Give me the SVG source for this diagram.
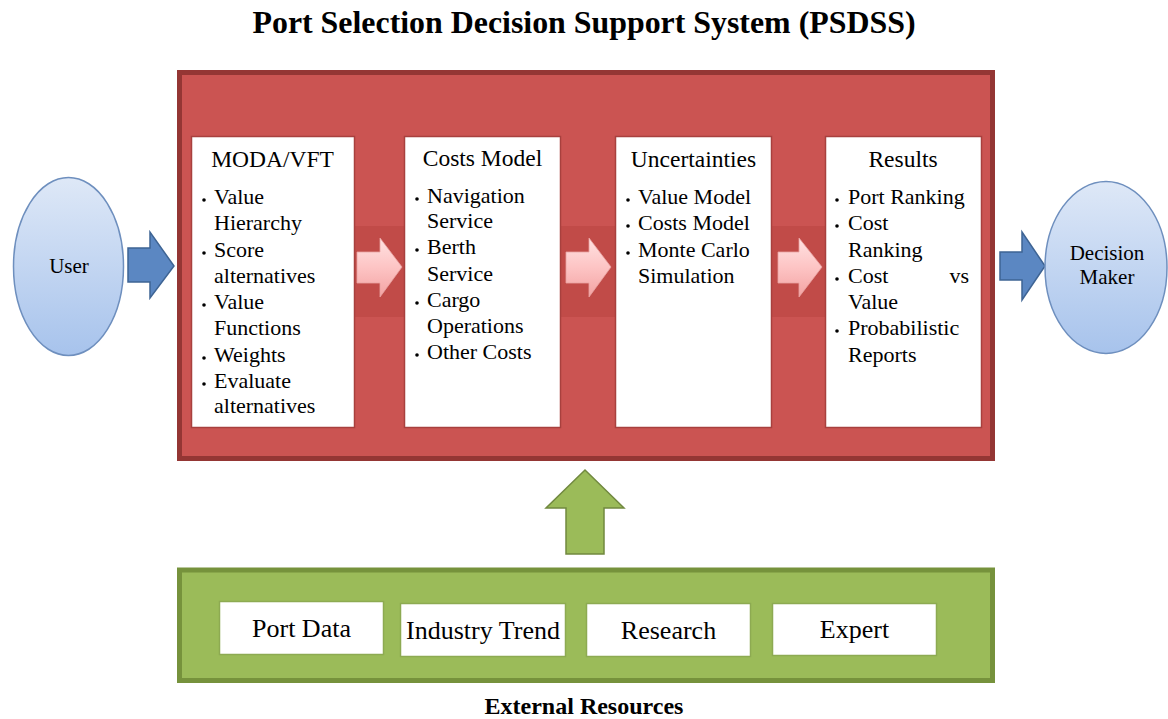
<svg xmlns="http://www.w3.org/2000/svg" width="1168" height="719" viewBox="0 0 1168 719">
<defs>
<style>
text{font-family:"Liberation Serif","Times New Roman",serif;fill:#000}
.title{font-size:32px;font-weight:bold}
.foot{font-size:24px;font-weight:bold}
.bt{font-size:22px}
.bh{font-size:23.5px}
.gl{font-size:26px}
.el{font-size:21px}
.wbox{fill:#fff;stroke:#A8403E;stroke-width:1.5}
.gbox{fill:#fff;stroke:#8DAA52;stroke-width:1.5}
.band{fill:#B9433F;opacity:0.55}
.pink{fill:url(#pg);stroke:#E9A3A2;stroke-width:0.8}
.blue{fill:#5B87C2;stroke:#3E6494;stroke-width:1.5}
.ell{fill:url(#bg);stroke:#6E8FBE;stroke-width:1.5}
.dot{fill:#000}
</style>
<linearGradient id="pg" x1="0" y1="0" x2="0" y2="1">
<stop offset="0" stop-color="#FFE2E2"/>
<stop offset="0.5" stop-color="#FDC4C4"/>
<stop offset="1" stop-color="#F3A2A2"/>
</linearGradient>
<linearGradient id="bg" x1="0" y1="0" x2="0" y2="1">
<stop offset="0" stop-color="#DEE8F7"/>
<stop offset="1" stop-color="#A7C3EC"/>
</linearGradient>
</defs>

<text class="title" x="584" y="33" text-anchor="middle" textLength="663" lengthAdjust="spacingAndGlyphs">Port Selection Decision Support System (PSDSS)</text>

<g id="psdss">
<rect x="179.5" y="72.5" width="813" height="386" fill="#CB5452" stroke="#943634" stroke-width="5"/>
</g>

<g id="connectors">
<rect class="band" x="352" y="226" width="54" height="91"/>
<rect class="band" x="558" y="226" width="60" height="91"/>
<rect class="band" x="769" y="226" width="59" height="91"/>
<polygon class="pink" points="357,252 380,252 380,238 402,267 380,297 380,283 357,283"/>
<polygon class="pink" points="566,252 589,252 589,238 611,267 589,297 589,283 566,283"/>
<polygon class="pink" points="778,252 799,252 799,238 822,267 799,297 799,283 778,283"/>
<polygon class="blue" points="128,248 150,248 150,232 174,266 150,298 150,282 128,282"/>
<polygon class="blue" points="1000,252 1022,252 1022,232 1045,266 1022,300 1022,280 1000,280"/>
<polygon points="585,470 624,508 604,508 604,554 566,554 566,508 546,508" fill="#9BBB59" stroke="#71893F" stroke-width="1.5"/>
</g>

<g id="moda">
<rect class="wbox" x="191.5" y="136.5" width="163" height="291"/>
<text class="bh" x="272.5" y="167" text-anchor="middle">MODA/VFT</text>
<circle class="dot" cx="204" cy="200" r="1.8"/>
<circle class="dot" cx="204" cy="253" r="1.8"/>
<circle class="dot" cx="204" cy="305" r="1.8"/>
<circle class="dot" cx="204" cy="358" r="1.8"/>
<circle class="dot" cx="204" cy="384" r="1.8"/>
<text class="bt" x="214" y="204">Value</text>
<text class="bt" x="214" y="230">Hierarchy</text>
<text class="bt" x="214" y="257">Score</text>
<text class="bt" x="214" y="283">alternatives</text>
<text class="bt" x="214" y="309">Value</text>
<text class="bt" x="214" y="335">Functions</text>
<text class="bt" x="214" y="362">Weights</text>
<text class="bt" x="214" y="388">Evaluate</text>
<text class="bt" x="214" y="413">alternatives</text>
</g>

<g id="costs">
<rect class="wbox" x="404.5" y="136.5" width="156" height="291"/>
<text class="bh" x="482.5" y="166" text-anchor="middle">Costs Model</text>
<circle class="dot" cx="417" cy="199" r="1.8"/>
<circle class="dot" cx="417" cy="250" r="1.8"/>
<circle class="dot" cx="417" cy="303" r="1.8"/>
<circle class="dot" cx="417" cy="355" r="1.8"/>
<text class="bt" x="427" y="203">Navigation</text>
<text class="bt" x="427" y="228">Service</text>
<text class="bt" x="427" y="254">Berth</text>
<text class="bt" x="427" y="281">Service</text>
<text class="bt" x="427" y="307">Cargo</text>
<text class="bt" x="427" y="333">Operations</text>
<text class="bt" x="427" y="359">Other Costs</text>
</g>

<g id="uncertainties">
<rect class="wbox" x="615.5" y="136.5" width="156" height="291"/>
<text class="bh" x="693.5" y="167" text-anchor="middle">Uncertainties</text>
<circle class="dot" cx="628" cy="200" r="1.8"/>
<circle class="dot" cx="628" cy="226" r="1.8"/>
<circle class="dot" cx="628" cy="253" r="1.8"/>
<text class="bt" x="638" y="204">Value Model</text>
<text class="bt" x="638" y="230">Costs Model</text>
<text class="bt" x="638" y="257">Monte Carlo</text>
<text class="bt" x="638" y="283">Simulation</text>
</g>

<g id="results">
<rect class="wbox" x="825.5" y="136.5" width="156" height="291"/>
<text class="bh" x="903" y="167" text-anchor="middle">Results</text>
<circle class="dot" cx="837" cy="200" r="1.8"/>
<circle class="dot" cx="837" cy="226" r="1.8"/>
<circle class="dot" cx="837" cy="279" r="1.8"/>
<circle class="dot" cx="837" cy="331" r="1.8"/>
<text class="bt" x="848" y="204">Port Ranking</text>
<text class="bt" x="848" y="230">Cost</text>
<text class="bt" x="848" y="257">Ranking</text>
<text class="bt" x="848" y="283">Cost</text>
<text class="bt" x="969" y="283" text-anchor="end">vs</text>
<text class="bt" x="848" y="309">Value</text>
<text class="bt" x="848" y="335">Probabilistic</text>
<text class="bt" x="848" y="362">Reports</text>
</g>

<g id="user">
<ellipse class="ell" cx="68.5" cy="266.5" rx="55" ry="89"/>
<text class="el" x="69" y="273" text-anchor="middle">User</text>
</g>

<g id="decision-maker">
<ellipse class="ell" cx="1106" cy="267.5" rx="61" ry="86"/>
<text class="el" x="1107" y="260" text-anchor="middle">Decision</text>
<text class="el" x="1107" y="284" text-anchor="middle">Maker</text>
</g>

<g id="external">
<rect x="179.5" y="570" width="813" height="110.5" fill="#9BBB59" stroke="#76923C" stroke-width="5"/>
</g>
<g id="port-data">
<rect class="gbox" x="219.5" y="601.5" width="164" height="53"/>
<text class="gl" x="301.5" y="637" text-anchor="middle">Port Data</text>
</g>
<g id="industry-trend">
<rect class="gbox" x="400.5" y="603.5" width="165" height="53"/>
<text class="gl" x="483" y="639" text-anchor="middle">Industry Trend</text>
</g>
<g id="research">
<rect class="gbox" x="586.5" y="603.5" width="164" height="53"/>
<text class="gl" x="668.5" y="639" text-anchor="middle">Research</text>
</g>
<g id="expert">
<rect class="gbox" x="772.5" y="603.5" width="164" height="52"/>
<text class="gl" x="854.5" y="638" text-anchor="middle">Expert</text>
</g>

<text class="foot" x="584" y="714" text-anchor="middle">External Resources</text>
</svg>
